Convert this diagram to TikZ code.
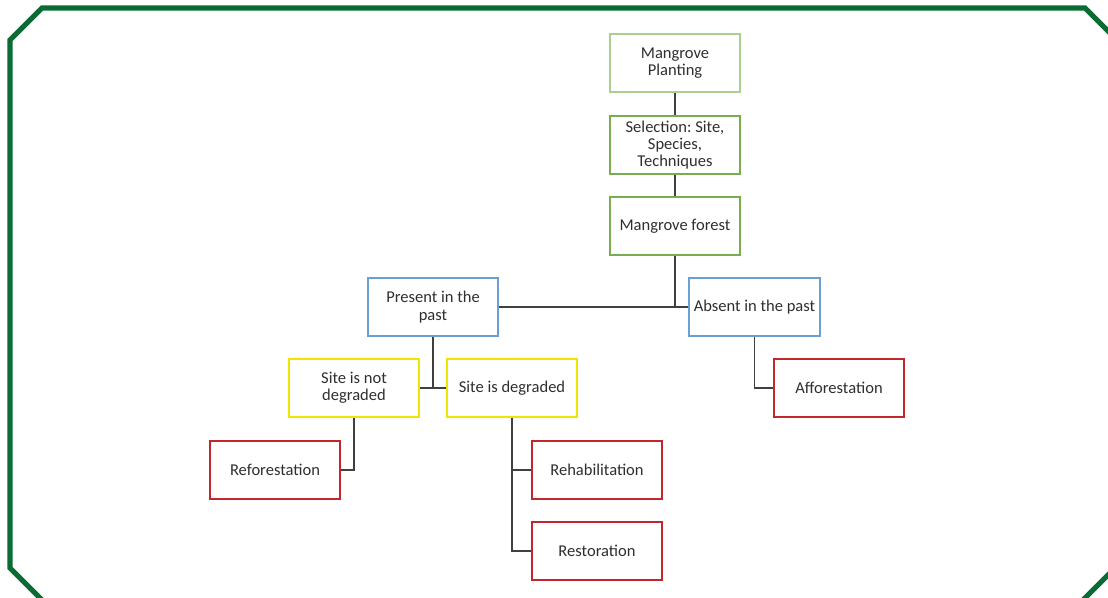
\documentclass[tikz,border=0pt]{standalone}
\usepackage{fontspec}
\setmainfont{Carlito}
\usepackage{tikz}
\usetikzlibrary{positioning}

\definecolor{framegreen}{HTML}{0B6B35}
\definecolor{palegreen}{HTML}{A9D08E}
\definecolor{midgreen}{HTML}{78AE50}
\definecolor{boxblue}{HTML}{6A9FD3}
\definecolor{boxyellow}{HTML}{F0E500}
\definecolor{boxred}{HTML}{C0282D}
\definecolor{linkgray}{HTML}{404040}

\begin{document}
\frenchspacing
\begin{tikzpicture}[
    x=0.75pt, y=-0.75pt,
    box/.style={draw,line width=1.5pt,minimum width=98pt,minimum height=43pt,inner sep=1pt,
        align=center,text=black!82,font=\fontsize{12.4}{12.9}\selectfont},
    topbox/.style={box,draw=palegreen},
    grnbox/.style={box,draw=midgreen},
    blubox/.style={box,draw=boxblue},
    ylwbox/.style={box,draw=boxyellow},
    redbox/.style={box,draw=boxred},
    link/.style={draw=linkgray,line width=1.1pt}
]
\useasboundingbox (0,0) rectangle (1108,598);
\begin{scope}
\clip (0,0) rectangle (1108,598);
\draw[framegreen,line width=3.8pt,line join=miter]
    (10,40)--(42,8)--(1085,8)--(1122,45)--(1122,561)--(1077,606)--(48,606)--(10,568)--cycle;
\end{scope}

\node[topbox] (plant) at (675,63) {Mangrove\\Planting};
\node[grnbox] (sel) at (675,145) {Selection: Site,\\Species,\\Techniques};
\node[grnbox] (forest) at (675,226) {Mangrove forest};
\draw[link] (plant)--(sel); \draw[link] (sel)--(forest);

\node[blubox] (present) at (433,307) {Present in the\\past};
\node[blubox] (absent) at (754.5,307) {Absent in the past};
\draw[link] (forest) |- (absent); \draw[link] (present)--(absent);

\node[ylwbox] (notdeg) at (354,388) {Site is not\\degraded};
\node[ylwbox] (deg) at (512,388) {Site is degraded};
\node[redbox] (affor) at (839,388) {Afforestation};
\draw[link] (present) |- (deg); \draw[link] (notdeg)--(deg);
\draw[link] (absent) |- (affor);

\node[redbox] (refor) at (275,470) {Reforestation};
\node[redbox] (rehab) at (597,470) {Rehabilitation};
\node[redbox] (resto) at (597,551) {Restoration};
\draw[link] (notdeg) |- (refor);
\draw[link] (deg) |- (rehab); \draw[link] (deg) |- (resto);
\end{tikzpicture}
\end{document}
